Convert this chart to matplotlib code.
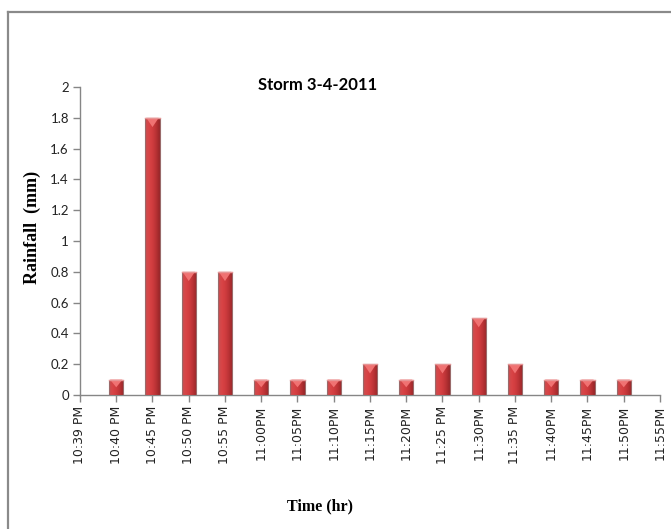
import matplotlib
matplotlib.use('Agg')
import matplotlib.pyplot as plt
import numpy as np
from matplotlib.colors import LinearSegmentedColormap
from matplotlib.patches import Polygon
from matplotlib.lines import Line2D

times = ['10:39 PM', '10:40 PM', '10:45 PM', '10:50 PM', '10:55 PM',
         '11:00PM', '11:05PM', '11:10PM', '11:15PM', '11:20PM',
         '11:25 PM', '11:30PM', '11:35 PM', '11:40PM', '11:45PM',
         '11:50PM', '11:55PM']
rainfall = [0, 0.1, 1.8, 0.8, 0.8, 0.1, 0.1, 0.1, 0.2, 0.1,
            0.2, 0.5, 0.2, 0.1, 0.1, 0.1, 0]

axis_grey = '#868686'
bar_cmap = LinearSegmentedColormap.from_list(
    'bar_red', ['#c75052', '#d94446', '#d03c3f', '#b83234', '#962528'])

fig = plt.figure(figsize=(6.71, 5.29), dpi=100)
ax = fig.add_axes([0.1192, 0.2533, 0.8644, 0.5822])

x = np.arange(len(times))
width = 0.39
bars = ax.bar(x, rainfall, width, color='#c83a3c', edgecolor='none', zorder=2)

# shaded body plus a bevelled top on each bar
grad = np.linspace(0, 1, 64).reshape(1, -1)
for rect in bars:
    h = rect.get_height()
    if h <= 0:
        continue
    x0 = rect.get_x()
    w = rect.get_width()
    im = ax.imshow(grad, cmap=bar_cmap, aspect='auto', zorder=3,
                   extent=(x0, x0 + w, 0, h), interpolation='bicubic')
    im.set_clip_path(rect)
    ax.add_patch(plt.Rectangle((x0, 0), w, h, fill=False,
                               edgecolor='#9a6a6a', linewidth=0.8, zorder=4))
    th = min(0.06, h * 0.5)
    tri = Polygon([(x0 + w * 0.06, h), (x0 + w * 0.94, h),
                   (x0 + w / 2, h - th)], closed=True,
                  facecolor='#f07272', edgecolor='none', zorder=5)
    ax.add_patch(tri)
    ax.plot([x0, x0 + w], [h, h], color='#e79595', linewidth=1.0, zorder=5)

ax.set_xlim(0, len(times) - 1)
ax.set_ylim(0, 2)
ax.set_yticks(np.arange(0, 2.01, 0.2))
ax.set_yticklabels(['0', '0.2', '0.4', '0.6', '0.8', '1', '1.2', '1.4',
                    '1.6', '1.8', '2'],
                   family='Lato', fontsize=9.5, color='#222222')
ax.set_xticks(x)
ax.set_xticklabels(times, rotation=90, family='DejaVu Sans', fontsize=9,
                   color='#222222')

for side in ['top', 'right']:
    ax.spines[side].set_visible(False)
for side in ['left', 'bottom']:
    ax.spines[side].set_color(axis_grey)
    ax.spines[side].set_linewidth(1.0)
ax.tick_params(axis='both', direction='out', length=5, width=1.0,
               color=axis_grey, pad=3)

fig.text(0.474, 0.839, 'Storm 3-4-2011', ha='center', va='center',
         family='Lato', fontweight='bold', fontsize=12)
fig.text(0.048, 0.571, 'Rainfall  (mm)', ha='center', va='center',
         rotation=90, family='Liberation Serif', fontweight='bold', fontsize=13)
fig.text(0.477, 0.042, 'Time (hr)', ha='center', va='center',
         family='Liberation Serif', fontweight='bold', fontsize=11.5)

# chart area border (top and left edges)
fig.add_artist(Line2D([0.012, 1.0], [0.977, 0.977], color='#8a8a8a',
                      linewidth=1.6, transform=fig.transFigure))
fig.add_artist(Line2D([0.012, 0.012], [0.0, 0.977], color='#8a8a8a',
                      linewidth=1.6, transform=fig.transFigure))

fig.savefig('out.png', dpi=100, facecolor='white')
